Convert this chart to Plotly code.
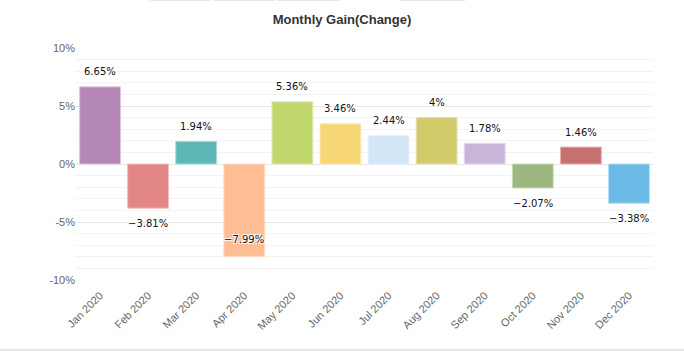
import plotly.graph_objects as go

months = ["Jan 2020", "Feb 2020", "Mar 2020", "Apr 2020", "May 2020", "Jun 2020",
          "Jul 2020", "Aug 2020", "Sep 2020", "Oct 2020", "Nov 2020", "Dec 2020"]
gains = [6.65, -3.81, 1.94, -7.99, 5.36, 3.46, 2.44, 4.0, 1.78, -2.07, 1.46, -3.38]
labels = ["6.65%", "−3.81%", "1.94%", "−7.99%", "5.36%", "3.46%",
          "2.44%", "4%", "1.78%", "−2.07%", "1.46%", "−3.38%"]
colors = ["#b487b5", "#e38686", "#5db7b4", "#ffbd93", "#c0d86e", "#f7d675",
          "#d2e6f8", "#d1cb6a", "#c8b6d8", "#9cb780", "#c86f72", "#6bbbe6"]
borders = ["#dcc6dd", "#f0c0c0", "#a9dad8", "#ffdcc6", "#dfebb5", "#fbeab8",
           "#e6f1fb", "#e6e2b2", "#e2d8ea", "#cbdabd", "#e2b5b7", "#b3ddf2"]
ytick_vals = [-10, -5, 0, 5, 10]
ytick_text = ["-10%", "-5%", "0%", "5%", "10%"]
minor_vals = [v for v in range(-10, 11) if v % 5 != 0]

W, H = 684, 351
ML, MR, MT, MB = 76, 31, 48, 71
PW, PH = W - ML - MR, H - MT - MB


def px_x(px):
    return (px - ML) / PW


def px_y(py):
    return (H - MB - py) / PH


fig = go.Figure()
fig.add_trace(go.Bar(
    x=months, y=gains,
    marker=dict(color=colors, line=dict(color=borders, width=1)),
    hoverinfo="skip",
))

label_font = dict(family="DejaVu Sans", size=10, color="#111",
                  shadow="1px 1px 0 #fff, -1px -1px 0 #fff, 1px -1px 0 #fff, -1px 1px 0 #fff")
for m, g, t in zip(months, gains, labels):
    if g >= 0:
        shift = 15
    elif g < -7:
        shift = 17
    else:
        shift = -15
    fig.add_annotation(x=m, y=g, text=t, showarrow=False, yshift=shift,
                       font=label_font, xanchor="center", yanchor="middle")

# container decorations: bottom border line and faint tab edges at the top
fig.add_shape(type="line", xref="paper", yref="paper",
              x0=px_x(0), x1=px_x(W), y0=px_y(350), y1=px_y(350),
              line=dict(color="#e6e6e6", width=2))
for a, b in [(150, 210), (213, 275), (277, 340), (400, 465)]:
    fig.add_shape(type="line", xref="paper", yref="paper",
                  x0=px_x(a), x1=px_x(b), y0=px_y(0.5), y1=px_y(0.5),
                  line=dict(color="#e8e8e8", width=1))

fig.update_layout(
    template="none",
    width=W, height=H,
    margin=dict(l=ML, r=MR, t=MT, b=MB),
    paper_bgcolor="#ffffff", plot_bgcolor="#ffffff",
    bargap=0.15,
    showlegend=False,
    title=dict(text="<b>Monthly Gain(Change)</b>", x=0.5, xanchor="center",
               y=0.945, yanchor="middle",
               font=dict(family="Liberation Sans, Arial", size=13, color="#333333")),
    xaxis=dict(
        tickangle=-45, showgrid=False, zeroline=False, showline=False, ticks="",
        color="#666666",
        tickfont=dict(family="Liberation Sans, Arial", size=11, color="#666666"),
        ticklabelstandoff=6,
    ),
    yaxis=dict(
        range=[-10, 10], tickmode="array", tickvals=ytick_vals, ticktext=ytick_text,
        showgrid=True, gridcolor="#e6e6e6", gridwidth=1,
        zeroline=False, showline=False, ticks="",
        color="#666666",
        tickfont=dict(family="Liberation Sans, Arial", size=11, color="#666666"),
        minor=dict(tickmode="array", tickvals=minor_vals, showgrid=True,
                   gridcolor="#f3f3f3", gridwidth=1, ticks=""),
    ),
)

fig.write_html("out.html")
